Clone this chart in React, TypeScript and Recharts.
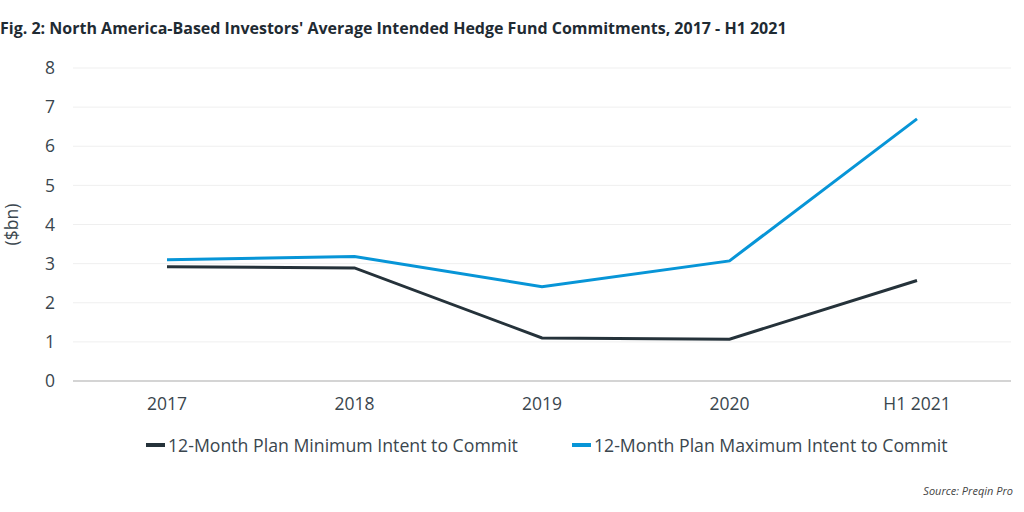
import React from 'react';
import { LineChart, Line, XAxis, YAxis, CartesianGrid } from 'recharts';

const years = ['2017', '2018', '2019', '2020', 'H1 2021'];
const minIntent = [2.92, 2.89, 1.1, 1.07, 2.57];
const maxIntent = [3.1, 3.18, 2.41, 3.07, 6.7];
const yTicks = [0, 1, 2, 3, 4, 5, 6, 7, 8];

const seriesNames = ['12-Month Plan Minimum Intent to Commit', '12-Month Plan Maximum Intent to Commit'];
const seriesColors = ['#25323a', '#0795d7'];

const data = years.map((y, i) => ({ year: y, min: minIntent[i], max: maxIntent[i] }));

const FONT = '"Open Sans", sans-serif';
const TEXT = '#3a464e';

export default function App() {
  return (
    <div style={{ position: 'absolute', left: 0, top: 0, width: 1024, height: 512, background: '#fff', fontFamily: FONT }}>
      <div style={{ position: 'absolute', left: 0, top: 17, fontSize: 16, fontWeight: 700, color: '#1f2b33', whiteSpace: 'nowrap' }}>
        Fig. 2: North America-Based Investors' Average Intended Hedge Fund Commitments, 2017 - H1 2021
      </div>
      <LineChart width={1024} height={420} data={data} margin={{ top: 68, right: 13, left: 0, bottom: 0 }}>
        <CartesianGrid vertical={false} stroke="#efefef" />
        <XAxis
          dataKey="year"
          axisLine={{ stroke: '#d4d4d4', strokeWidth: 2 }}
          tickLine={false}
          tickMargin={11}
          height={39}
          padding={{ left: 94, right: 94 }}
          tick={{ fill: TEXT, fontSize: 17.5, fontFamily: FONT }}
        />
        <YAxis
          width={73}
          domain={[0, 8]}
          ticks={yTicks}
          axisLine={false}
          tickLine={false}
          tickMargin={12}
          tick={{ fill: TEXT, fontSize: 17.5, fontFamily: FONT }}
          label={{ value: '($bn)', angle: -90, position: 'insideLeft', offset: 12, style: { fill: TEXT, fontSize: 17.5, fontFamily: FONT, textAnchor: 'middle' } }}
        />
        <Line dataKey="min" name={seriesNames[0]} stroke={seriesColors[0]} strokeWidth={3} dot={false} isAnimationActive={false} />
        <Line dataKey="max" name={seriesNames[1]} stroke={seriesColors[1]} strokeWidth={3} dot={false} isAnimationActive={false} />
      </LineChart>
      <div style={{ position: 'absolute', top: 433, left: 146, display: 'flex', gap: 54, fontSize: 17.7, color: TEXT, whiteSpace: 'nowrap' }}>
        {seriesNames.map((n, i) => (
          <div key={n} style={{ display: 'flex', alignItems: 'center' }}>
            <span style={{ display: 'inline-block', width: 19, height: 4, background: seriesColors[i], marginRight: 3 }} />
            {n}
          </div>
        ))}
      </div>
      <div style={{ position: 'absolute', right: 11, top: 483, fontSize: 11, fontStyle: 'italic', color: '#444' }}>
        Source: Preqin Pro
      </div>
    </div>
  );
}
